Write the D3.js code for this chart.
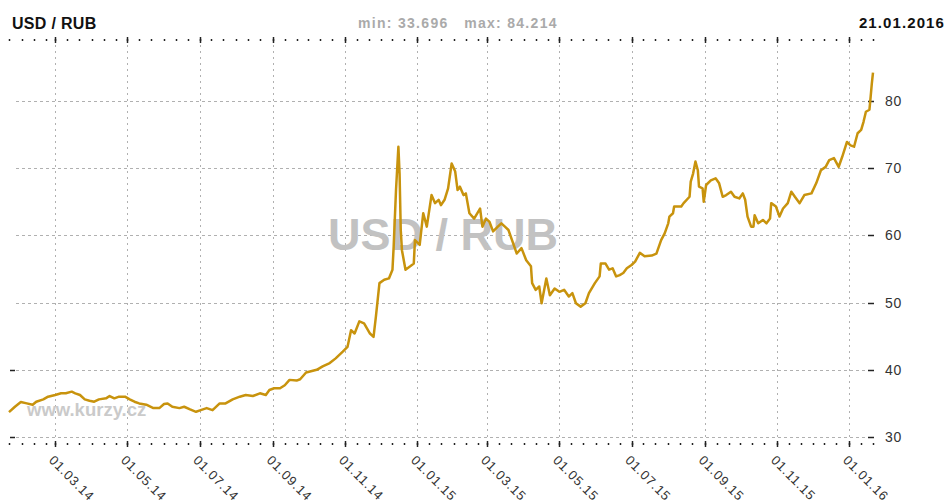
<!DOCTYPE html>
<html>
<head>
<meta charset="utf-8">
<script src="https://cdn.jsdelivr.net/npm/d3@7/dist/d3.min.js"></script>
<style>
  body { margin: 0; background: #fff; }
  svg { display: block; font-family: "Liberation Sans", Arial, sans-serif; }
</style>
</head>
<body>
<div id="chart"></div>
<script>
// USD / RUB, 21.01.2014 - 21.01.2016
const dates = [
  "2014-01-21","2014-01-26","2014-01-31","2014-02-05","2014-02-10","2014-02-13","2014-02-19","2014-02-23",
  "2014-03-01","2014-03-06","2014-03-10","2014-03-15","2014-03-18","2014-03-22","2014-03-26","2014-03-30",
  "2014-04-03","2014-04-07","2014-04-13","2014-04-16","2014-04-20","2014-04-24","2014-04-29",
  "2014-05-03","2014-05-07","2014-05-11","2014-05-17","2014-05-23","2014-05-28",
  "2014-06-01","2014-06-04","2014-06-08","2014-06-14","2014-06-18","2014-06-23","2014-06-28",
  "2014-07-02","2014-07-07","2014-07-12","2014-07-18","2014-07-23","2014-07-29",
  "2014-08-04","2014-08-09","2014-08-15","2014-08-21","2014-08-26","2014-08-29",
  "2014-09-02","2014-09-07","2014-09-11","2014-09-15","2014-09-21","2014-09-24","2014-09-29",
  "2014-10-08","2014-10-13","2014-10-19","2014-10-24","2014-10-30",
  "2014-11-03","2014-11-06","2014-11-09","2014-11-13","2014-11-17","2014-11-22","2014-11-25","2014-11-27","2014-11-30",
  "2014-12-04","2014-12-08","2014-12-11","2014-12-12","2014-12-14","2014-12-16","2014-12-17","2014-12-18","2014-12-19",
  "2014-12-22","2014-12-26","2014-12-29","2014-12-30",
  "2015-01-03","2015-01-06","2015-01-09","2015-01-13","2015-01-16","2015-01-19","2015-01-21","2015-01-24","2015-01-27","2015-01-30",
  "2015-02-02","2015-02-04","2015-02-06","2015-02-09","2015-02-11","2015-02-14","2015-02-18","2015-02-23","2015-02-25","2015-02-28",
  "2015-03-03","2015-03-06","2015-03-10","2015-03-13","2015-03-16","2015-03-19","2015-03-22","2015-03-26","2015-03-30",
  "2015-04-03","2015-04-07","2015-04-08","2015-04-11","2015-04-14","2015-04-16","2015-04-20","2015-04-23","2015-04-27",
  "2015-05-01","2015-05-05","2015-05-09","2015-05-12","2015-05-15","2015-05-19","2015-05-23","2015-05-26","2015-05-31",
  "2015-06-04","2015-06-05","2015-06-09","2015-06-12","2015-06-15","2015-06-18","2015-06-21","2015-06-24","2015-06-27",
  "2015-07-01","2015-07-04","2015-07-08","2015-07-12","2015-07-18","2015-07-22","2015-07-26","2015-07-29",
  "2015-08-01","2015-08-02","2015-08-05","2015-08-06","2015-08-12","2015-08-14","2015-08-19","2015-08-20","2015-08-22",
  "2015-08-24","2015-08-26","2015-08-27","2015-08-30","2015-08-31",
  "2015-09-02","2015-09-06","2015-09-10","2015-09-13","2015-09-16","2015-09-19","2015-09-23","2015-09-26","2015-09-30",
  "2015-10-03","2015-10-05","2015-10-07","2015-10-10","2015-10-12","2015-10-13","2015-10-16","2015-10-20","2015-10-23",
  "2015-10-26","2015-10-27","2015-10-31",
  "2015-11-03","2015-11-06","2015-11-10","2015-11-13","2015-11-16","2015-11-20","2015-11-24","2015-11-30",
  "2015-12-04","2015-12-08","2015-12-12","2015-12-15","2015-12-19","2015-12-23","2015-12-26","2015-12-30",
  "2016-01-02","2016-01-05","2016-01-08","2016-01-11","2016-01-13","2016-01-15","2016-01-18","2016-01-19","2016-01-20","2016-01-21"
];

const usdRub = [
  33.70, 34.5, 35.2, 35.0, 34.8, 35.25, 35.6, 36.0,
  36.25, 36.5, 36.5, 36.75, 36.5, 36.25, 35.6, 35.4,
  35.25, 35.6, 35.75, 36.1, 35.75, 36.0, 36.0,
  35.6, 35.25, 35.0, 34.8, 34.3, 34.3,
  34.9, 35.0, 34.5, 34.3, 34.5, 34.1, 33.75,
  34.0, 34.3, 34.0, 35.0, 35.0, 35.6,
  36.0, 36.25, 36.1, 36.5, 36.25, 37.0,
  37.25, 37.25, 37.7, 38.5, 38.4, 38.6, 39.6,
  40.0, 40.5, 41.0, 41.7, 42.7,
  43.4, 45.9, 45.4, 47.2, 46.9, 45.4, 44.9, 47.9, 52.9,
  53.4, 53.6, 54.9, 58.3, 66.8, 73.2, 69.2, 60.8, 57.8,
  54.9, 55.4, 55.8, 59.3,
  58.6, 63.3, 61.3, 66.0, 64.8, 65.3, 64.5, 65.3, 67.0, 70.7,
  69.5, 66.75, 67.25, 66.0, 66.25, 63.3, 62.5, 64.0, 61.3, 62.5,
  62.0, 60.6, 61.3, 61.8, 61.3, 60.8, 59.3, 57.3, 58.1,
  56.3, 55.4, 52.9, 51.9, 52.4, 49.9, 53.6, 51.1, 52.1,
  51.6, 51.9, 50.9, 51.4, 49.9, 49.4, 49.9, 51.4, 52.9,
  53.9, 55.8, 55.8, 54.9, 55.1, 53.9, 54.1, 54.4, 55.1,
  55.6, 56.1, 57.4, 56.9, 57.0, 57.3, 59.3, 60.3,
  61.8, 62.8, 63.3, 64.3, 64.3, 64.8, 65.75, 68.0, 69.2,
  71.0, 69.7, 67.25, 67.0, 65.0,
  67.5, 68.2, 68.5, 67.75, 65.75, 66.0, 66.5, 65.75, 65.5,
  66.25, 65.3, 62.8, 61.3, 61.3, 63.0, 61.8, 62.3, 61.8,
  62.5, 64.8, 64.3,
  62.8, 64.0, 64.8, 66.5, 65.75, 64.8, 66.0, 66.25,
  67.75, 69.7, 70.2, 71.2, 71.5, 70.2, 71.7, 73.9,
  73.4, 73.2, 75.2, 75.7, 76.9, 78.4, 78.7, 80.6, 82.6, 84.214
];

const yTicks = [30, 40, 50, 60, 70, 80];
const startDate = "2014-01-21";
const endDate = "2016-01-21";
const pairName = "USD / RUB";
const minText = "min: 33.696";
const maxText = "max: 84.214";

const width = 947, height = 504;
const parse = d3.timeParse("%Y-%m-%d");
const data = dates.map((d, i) => ({ date: parse(d), value: usdRub[i] }));

const x = d3.scaleTime()
  .domain([parse(startDate), parse(endDate)])
  .range([9, 873]);

const y = d3.scaleLinear()
  .domain([30, 80])
  .range([437, 101]);

const svg = d3.select("#chart")
  .append("svg")
  .attr("width", width)
  .attr("height", height);

svg.append("rect").attr("width", width).attr("height", height).attr("fill", "#fff");

// ticks on 1st, 11th, 21st of every month; majors on 1st of odd months
const endPlus = d3.timeDay.offset(parse(endDate), 1);
const minorTicks = d3.timeDay.filter(d => [1, 11, 21].includes(d.getDate()))
  .range(parse(startDate), endPlus);
const majorTicks = d3.timeMonth.every(2).range(d3.timeDay.offset(parse(startDate), 1), endPlus);

// grid
svg.append("g")
  .selectAll("line")
  .data(majorTicks)
  .join("line")
  .attr("x1", d => Math.round(x(d)) + 0.5)
  .attr("x2", d => Math.round(x(d)) + 0.5)
  .attr("y1", 45)
  .attr("y2", y(30))
  .attr("stroke", "#b0b0b0")
  .attr("stroke-dasharray", "2,4");

svg.append("g")
  .selectAll("line")
  .data(yTicks)
  .join("line")
  .attr("x1", 16)
  .attr("x2", 867)
  .attr("y1", d => Math.round(y(d)) + 0.5)
  .attr("y2", d => Math.round(y(d)) + 0.5)
  .attr("stroke", "#b0b0b0")
  .attr("stroke-dasharray", "3,3");

// watermarks
svg.append("text")
  .attr("x", 443)
  .attr("y", 250)
  .attr("text-anchor", "middle")
  .attr("font-size", 45)
  .attr("font-weight", "bold")
  .attr("fill", "#c2c2c2")
  .text(pairName);

svg.append("text")
  .attr("x", 27)
  .attr("y", 416)
  .attr("font-size", 18.5)
  .attr("font-weight", "bold")
  .attr("fill", "#cacaca")
  .text("www.kurzy.cz");

// top and bottom tick rows
[40, 444].forEach(function(ty) {
  const g = svg.append("g");
  g.selectAll("line.minor")
    .data(minorTicks)
    .join("line")
    .attr("class", "minor")
    .attr("x1", d => Math.round(x(d)) + 0.5)
    .attr("x2", d => Math.round(x(d)) + 0.5)
    .attr("y1", ty - 1)
    .attr("y2", ty + 1)
    .attr("stroke", "#222")
    .attr("stroke-width", 1.5);
  g.selectAll("line.major")
    .data(majorTicks)
    .join("line")
    .attr("class", "major")
    .attr("x1", d => Math.round(x(d)) + 0.5)
    .attr("x2", d => Math.round(x(d)) + 0.5)
    .attr("y1", ty - 3)
    .attr("y2", ty + 3)
    .attr("stroke", "#222")
    .attr("stroke-width", 1.5);
});

// x labels
const fmt = d3.timeFormat("%d.%m.%y");
svg.append("g")
  .selectAll("text")
  .data(majorTicks)
  .join("text")
  .attr("transform", d => `translate(${x(d) - 7}, 461) rotate(45)`)
  .attr("font-size", 13)
  .attr("letter-spacing", 0.9)
  .attr("fill", "#333")
  .text(d => fmt(d));

// y axis on the right
const yAxis = svg.append("g");
yAxis.selectAll("line")
  .data(yTicks)
  .join("line")
  .attr("x1", 868)
  .attr("x2", 874)
  .attr("y1", d => Math.round(y(d)) + 0.5)
  .attr("y2", d => Math.round(y(d)) + 0.5)
  .attr("stroke", "#222")
  .attr("stroke-width", 1.5);
yAxis.selectAll("text")
  .data(yTicks)
  .join("text")
  .attr("x", 885)
  .attr("y", d => y(d) + 5)
  .attr("font-size", 14)
  .attr("letter-spacing", 0.8)
  .attr("fill", "#333")
  .text(d => d);

// little left marks
svg.append("g")
  .selectAll("line")
  .data([30, 40])
  .join("line")
  .attr("x1", 10)
  .attr("x2", 15)
  .attr("y1", d => Math.round(y(d)) + 0.5)
  .attr("y2", d => Math.round(y(d)) + 0.5)
  .attr("stroke", "#222")
  .attr("stroke-width", 1.5);

// the rate line
const line = d3.line()
  .x(d => x(d.date))
  .y(d => y(d.value));

svg.append("path")
  .datum(data)
  .attr("fill", "none")
  .attr("stroke", "#c8930d")
  .attr("stroke-width", 2.5)
  .attr("stroke-linejoin", "round")
  .attr("d", line);

// header
svg.append("text")
  .attr("x", 12)
  .attr("y", 29)
  .attr("font-size", 16)
  .attr("font-weight", "bold")
  .attr("letter-spacing", 0.3)
  .attr("fill", "#111")
  .text(pairName);

svg.append("text")
  .attr("x", 358)
  .attr("y", 28)
  .attr("font-size", 14)
  .attr("font-weight", "bold")
  .attr("letter-spacing", 1.3)
  .attr("fill", "#aaa")
  .attr("xml:space", "preserve")
  .text(minText + "   " + maxText);

svg.append("text")
  .attr("x", 945)
  .attr("y", 28)
  .attr("text-anchor", "end")
  .attr("font-size", 15)
  .attr("font-weight", "bold")
  .attr("letter-spacing", 1.1)
  .attr("fill", "#111")
  .text(d3.timeFormat("%d.%m.%Y")(parse(endDate)));
</script>
</body>
</html>
